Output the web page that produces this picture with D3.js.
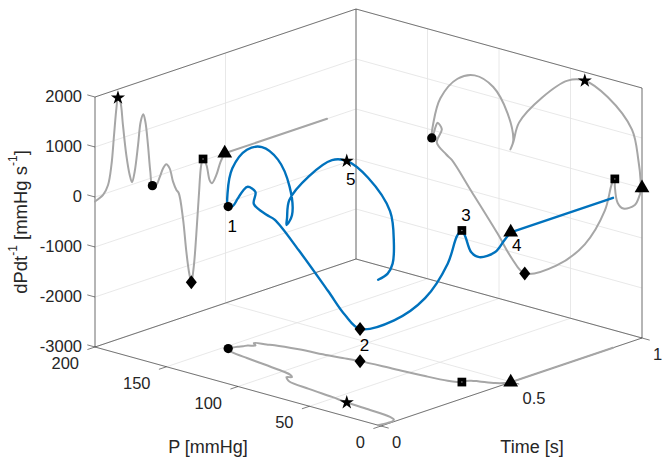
<!DOCTYPE html>
<html>
<head>
<meta charset="utf-8">
<script src="https://cdn.jsdelivr.net/npm/d3@7/dist/d3.min.js"></script>
<style>
  body { margin: 0; background: #fff; }
  svg text { font-family: "Liberation Sans", Arial, Helvetica, sans-serif; fill: #262626; }
</style>
</head>
<body>
<script>
// time [s], pressure [mmHg] and dP/dt [mmHg/s] of one beat
var timeS = [0.000, 0.031, 0.050, 0.063, 0.073, 0.082, 0.088, 0.097, 0.107, 0.120,
             0.133, 0.142, 0.152, 0.165, 0.175, 0.185, 0.193, 0.203, 0.212, 0.220,
             0.235, 0.248, 0.261, 0.273, 0.286, 0.299, 0.312, 0.321, 0.337, 0.350,
             0.360, 0.369, 0.379, 0.388, 0.398, 0.407, 0.414, 0.427, 0.439, 0.448,
             0.465, 0.481, 0.497, 0.889];
var pressure = [2, 1, 1, 2.5, 7, 24, 40, 52, 70, 86,
                90, 92, 90, 94, 104, 117, 129, 141, 146, 147,
                146.5, 145.5, 144, 143, 140, 143.5, 137, 133, 119, 101,
                91, 82, 60, 40, 26, 21, 19, 19, 17, 13,
                5, 1.5, 0, 0];
var dpdt = [-90, -14, 152, 530, 1112, 1630, 1830, 1736, 1252, 628,
            206, 44, 238, 750, 1198, 1328, 1166, 682, 132, -160,
            -170, -40, 114, 174, 70, -220, -408, -490, -1020, -1710,
            -2128, -2356, -2028, -1442, -660, -76, 32, -112, -434, -514,
            -378, -142, 0, 0];

// event markers (index into the series) and their numbers
var markerIdx = [6, 19, 31, 36, 42];
var markerShape = ["star", "circle", "diamond", "square", "triangle"];
var markerText = ["5", "1", "2", "3", "4"];

var pTicks = [0, 50, 100, 150, 200];
var pTickLabels = ["0", "50", "100", "150", "200"];
var tTicks = [0, 0.5, 1];
var tTickLabels = ["0", "0.5", "1"];
var zTicks = [-3000, -2000, -1000, 0, 1000, 2000];
var zTickLabels = ["-3000", "-2000", "-1000", "0", "1000", "2000"];

var W = 662, H = 462;
var blue = "#0072BD", grey = "#a6a6a6", axisCol = "#262626", gridCol = "#e2e2e2";

var svg = d3.select("body").append("svg").attr("width", W).attr("height", H);

// 3-D box: P runs front-left -> front-right, time goes back, dP/dt up
var pScale = d3.scaleLinear().domain([200, 0]).range([0, 1]);
var tScale = d3.scaleLinear().domain([0, 1]).range([0, 1]);
var zScale = d3.scaleLinear().domain([-3000, 2000]).range([0, 1]);
var origin = [95, 347], vP = [286, 79], vT = [261, -88], vZ = [0, -250];

function proj(p, t, z) {
	var a = pScale(p), b = tScale(t), c = zScale(z);
	return [origin[0] + a * vP[0] + b * vT[0] + c * vZ[0],
	        origin[1] + a * vP[1] + b * vT[1] + c * vZ[1]];
}

function seg(g, a, b, col, w) {
	g.append("line")
		.attr("x1", a[0]).attr("y1", a[1]).attr("x2", b[0]).attr("y2", b[1])
		.attr("stroke", col).attr("stroke-width", w);
}

var zMin = -3000, zMax = 2000;

// grid
var grid = svg.append("g");
zTicks.forEach(function(z) {
	seg(grid, proj(200, 0, z), proj(200, 1, z), gridCol, 0.8);   // left wall
	seg(grid, proj(200, 1, z), proj(0, 1, z), gridCol, 0.8);     // right wall
});
pTicks.forEach(function(p) {
	seg(grid, proj(p, 1, zMin), proj(p, 1, zMax), gridCol, 0.8);
	seg(grid, proj(p, 0, zMin), proj(p, 1, zMin), gridCol, 0.8);
});
tTicks.forEach(function(t) {
	seg(grid, proj(200, t, zMin), proj(200, t, zMax), gridCol, 0.8);
	seg(grid, proj(200, t, zMin), proj(0, t, zMin), gridCol, 0.8);
});

// box edges and axes
var box = svg.append("g");
seg(box, proj(200, 0, zMin), proj(200, 0, zMax), axisCol, 0.6);
seg(box, proj(200, 1, zMin), proj(200, 1, zMax), axisCol, 0.6);
seg(box, proj(0, 1, zMin), proj(0, 1, zMax), axisCol, 0.6);
seg(box, proj(200, 0, zMax), proj(200, 1, zMax), axisCol, 0.6);
seg(box, proj(200, 1, zMax), proj(0, 1, zMax), axisCol, 0.6);
seg(box, proj(200, 0, zMin), proj(200, 1, zMin), axisCol, 0.6);
seg(box, proj(200, 1, zMin), proj(0, 1, zMin), axisCol, 0.6);
seg(box, proj(200, 0, zMin), proj(0, 0, zMin), axisCol, 0.6);
seg(box, proj(0, 0, zMin), proj(0, 1, zMin), axisCol, 0.6);

// ticks + tick labels
var tl = 8;
var uP = [vP[0] / Math.hypot(vP[0], vP[1]), vP[1] / Math.hypot(vP[0], vP[1])];
var uT = [vT[0] / Math.hypot(vT[0], vT[1]), vT[1] / Math.hypot(vT[0], vT[1])];
zTicks.forEach(function(z, i) {
	var a = proj(200, 0, z);
	seg(box, a, [a[0] - tl * uP[0], a[1] - tl * uP[1]], axisCol, 0.6);
	box.append("text").attr("x", 82).attr("y", a[1] - 1.5)
		.attr("text-anchor", "end").attr("dominant-baseline", "central")
		.style("font-size", "16.5px").text(zTickLabels[i]);
});
pTicks.forEach(function(p, i) {
	var a = proj(p, 0, zMin);
	seg(box, a, [a[0] - tl * uT[0], a[1] - tl * uT[1]], axisCol, 0.6);
	box.append("text").attr("x", a[0] - 16).attr("y", a[1] + 16)
		.attr("text-anchor", "end").attr("dominant-baseline", "central")
		.style("font-size", "16.5px").text(pTickLabels[i]);
});
tTicks.forEach(function(t, i) {
	var a = proj(0, t, zMin);
	seg(box, a, [a[0] + tl * uP[0], a[1] + tl * uP[1]], axisCol, 0.6);
	box.append("text").attr("x", a[0] + 11).attr("y", a[1] + 16)
		.attr("text-anchor", "start").attr("dominant-baseline", "central")
		.style("font-size", "16.5px").text(tTickLabels[i]);
});

// axis labels
svg.append("text").attr("x", 208).attr("y", 447)
	.attr("text-anchor", "middle").attr("dominant-baseline", "central")
	.style("font-size", "18px").text("P [mmHg]");
svg.append("text").attr("x", 532).attr("y", 447)
	.attr("text-anchor", "middle").attr("dominant-baseline", "central")
	.style("font-size", "18px").text("Time [s]");
var yl = svg.append("text")
	.attr("transform", "translate(20,222) rotate(-90)")
	.attr("text-anchor", "middle").attr("dominant-baseline", "central")
	.style("font-size", "18.5px");
yl.append("tspan").text("dPdt");
yl.append("tspan").attr("dy", -7).style("font-size", "12px").text("-1");
yl.append("tspan").attr("dy", 7).text(" [mmHg s");
yl.append("tspan").attr("dy", -7).style("font-size", "12px").text("-1");
yl.append("tspan").attr("dy", 7).text("]");

// the data and its three shadows
var idx = d3.range(timeS.length);
var last = markerIdx[4];
var smooth = d3.line().curve(d3.curveCatmullRom.alpha(0.5));
var straight = d3.line();

var views = [
	{ f: function(i) { return proj(200, timeS[i], dpdt[i]); }, col: grey, w: 2 },
	{ f: function(i) { return proj(pressure[i], timeS[i], zMin); }, col: grey, w: 2 },
	{ f: function(i) { return proj(pressure[i], 1, dpdt[i]); }, col: grey, w: 2 },
	{ f: function(i) { return proj(pressure[i], timeS[i], dpdt[i]); }, col: blue, w: 2.4 }
];

var symbols = {
	star: d3.symbol(d3.symbolStar, 62)(),
	circle: d3.symbol(d3.symbolCircle, 68)(),
	diamond: "M0,-7L5.5,0L0,7L-5.5,0Z",
	square: d3.symbol(d3.symbolSquare, 76)(),
	triangle: d3.symbol(d3.symbolTriangle, 95)()
};

views.forEach(function(v) {
	var g = svg.append("g");
	var pts = idx.slice(0, last + 1).map(v.f);
	var tail = idx.slice(last).map(v.f);
	g.append("path").attr("d", smooth(pts)).attr("fill", "none")
		.attr("stroke", v.col).attr("stroke-width", v.w)
		.attr("stroke-linejoin", "round").attr("stroke-linecap", "round");
	g.append("path").attr("d", straight(tail)).attr("fill", "none")
		.attr("stroke", v.col).attr("stroke-width", v.w).attr("stroke-linecap", "round");
	markerIdx.forEach(function(m, k) {
		var q = v.f(m);
		g.append("path").attr("d", symbols[markerShape[k]])
			.attr("transform", "translate(" + q[0] + "," + q[1] + ")")
			.attr("fill", "#000");
		if (markerShape[k] == "square")
			g.append("circle").attr("cx", q[0]).attr("cy", q[1]).attr("r", 0.7).attr("fill", "#999");
	});
});

// numbers next to the blue markers
var labelOff = [[4, 19], [4, 20], [4.5, 17], [4, -15], [6, 13]];
markerIdx.forEach(function(m, k) {
	var q = views[3].f(m);
	svg.append("text").attr("x", q[0] + labelOff[k][0]).attr("y", q[1] + labelOff[k][1])
		.attr("text-anchor", "middle").attr("dominant-baseline", "central")
		.style("font-size", "17px").style("fill", "#000").text(markerText[k]);
});
</script>
</body>
</html>
